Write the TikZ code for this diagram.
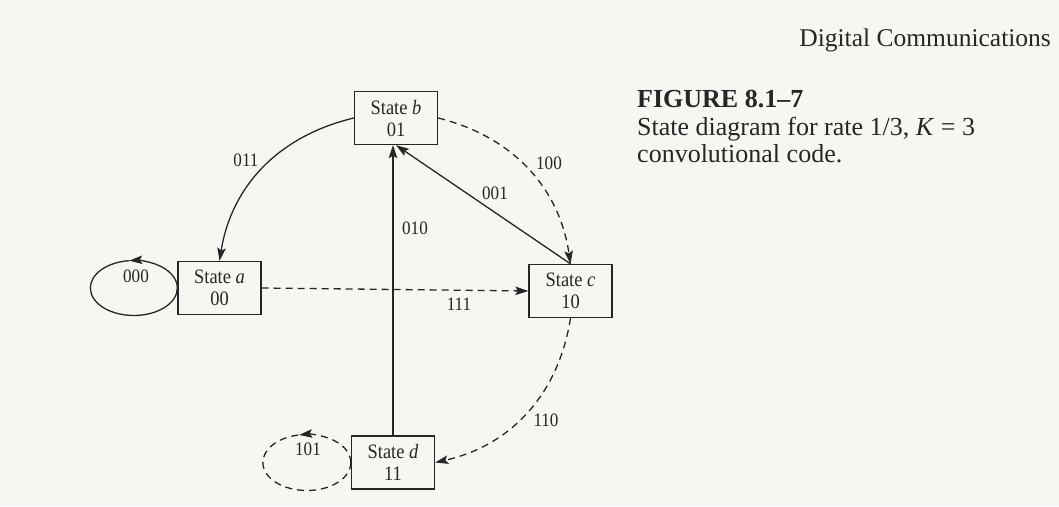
\documentclass[tikz,border=0pt]{standalone}
\usepackage{fontspec}
\setmainfont{Liberation Serif}
\newfontfamily\diagfont[FakeStretch=0.9]{Liberation Serif}
\usetikzlibrary{arrows.meta}
\definecolor{paper}{RGB}{247,246,241}
\definecolor{ink}{RGB}{38,38,38}
\begin{document}
\begin{tikzpicture}[x=1pt,y=1pt,
  statebox/.style={draw=ink,line width=1.3pt,minimum width=83pt,minimum height=53pt,inner sep=0pt,align=center,font=\diagfont\fontsize{20.5}{22}\selectfont,text=ink},
  lbl/.style={font=\diagfont\fontsize{19}{21}\selectfont,text=ink,inner sep=0pt},
  conn/.style={draw=ink,line width=1.3pt,-{Stealth[length=13pt,width=8.5pt,inset=2.5pt]}},
  plainline/.style={draw=ink,line width=1.3pt},
  dashline/.style={dash pattern=on 7pt off 5pt},
  captxt/.style={font=\fontsize{26}{28}\selectfont,text=ink,inner sep=0pt},
]
\fill[paper] (0,0) rectangle (1059,506);
\useasboundingbox (0,0) rectangle (1059,506);

% state boxes
\node[statebox] (b) at (396,388) {State \textit{b}\\01};
\node[statebox] (a) at (219.5,218) {State \textit{a}\\00};
\node[statebox] (c) at (570.5,215) {State \textit{c}\\10};
\node[statebox] (d) at (393,43.5) {State \textit{d}\\11};

% connectors
\draw[conn] (b.west) to[out=193.4,in=80.9] (a.north);
\draw[conn,dashline] (b.east) to[out=-14,in=98.3] (c.north);
\draw[conn] (c.north) -- (b.south);
\draw[conn] (d.north) -- (d.north |- b.south);
\draw[conn,dashline] (a.east) -- (c.west);
\draw[conn,dashline] (c.south) to[out=-98.9,in=12.6] (d.east);

% self loops
\draw[conn] (a.west) arc[start angle=0,end angle=96,x radius=43.5pt,y radius=27.5pt];
\draw[plainline] (a.west) arc[start angle=0,end angle=-264,x radius=43.5pt,y radius=27.5pt];
\draw[conn,dashline] (d.west) arc[start angle=0,end angle=100,x radius=44pt,y radius=28pt];
\draw[plainline,dashline] (d.west) arc[start angle=0,end angle=-260,x radius=44pt,y radius=28pt];

% edge labels
\node[lbl] (l000) at (136,230) {000};
\node[lbl] (l011) at (246,346) {011};
\node[lbl] (l100) at (549,343) {100};
\node[lbl] (l001) at (495,313) {001};
\node[lbl] (l010) at (415,278) {010};
\node[lbl] (l111) at (459,202) {111};
\node[lbl] (l110) at (546,86) {110};
\node[lbl] (l101) at (308,57) {101};

% page header and caption
\node[captxt,anchor=base east,font=\fontsize{25.5}{28}\selectfont] (hdr) at (1051,459) {Digital Communications};
\node[captxt,anchor=base west,font=\fontsize{26}{28}\selectfont\bfseries] (fig) at (637,398) {FIGURE 8.1–7};
\node[captxt,anchor=base west] (cap1) at (637,370) {State diagram for rate 1/3, \textit{K} = 3};
\node[captxt,anchor=base west] (cap2) at (637,343) {convolutional code.};
\end{tikzpicture}
\end{document}
